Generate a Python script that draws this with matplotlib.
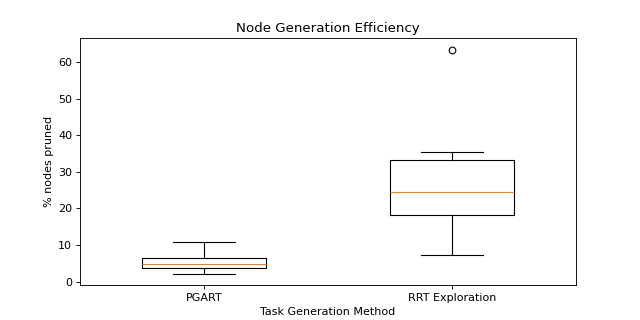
import matplotlib
matplotlib.use("Agg")
import matplotlib.pyplot as plt

# box statistics
methods = ["PGART", "RRT Exploration"]
whisker_low = [2.2, 7.3]
q1 = [3.75, 18.1]
medians = [4.85, 24.6]
q3 = [6.5, 33.3]
whisker_high = [10.9, 35.3]
outliers = [[], [63.4]]

stats = []
for i in range(len(methods)):
    stats.append({
        "label": methods[i],
        "whislo": whisker_low[i],
        "q1": q1[i],
        "med": medians[i],
        "q3": q3[i],
        "whishi": whisker_high[i],
        "fliers": outliers[i],
    })

fig, ax = plt.subplots(figsize=(8, 4), dpi=80)
ax.bxp(stats, showfliers=True, widths=0.5)
ax.set_title("Node Generation Efficiency")
ax.set_xlabel("Task Generation Method")
ax.set_ylabel("% nodes pruned")
plt.savefig("out.png", dpi=80)
